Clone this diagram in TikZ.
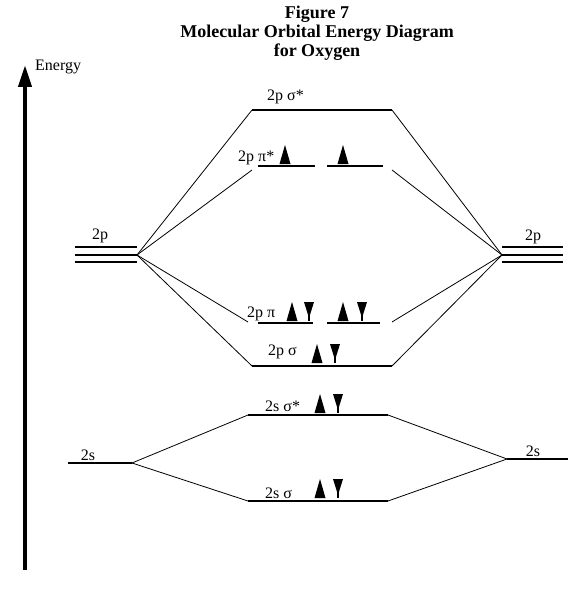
\documentclass[tikz,border=0pt]{standalone}
\usepackage{fontspec}
\setmainfont{Liberation Serif}
\usetikzlibrary{arrows.meta}

% electron arrows: x, y of the base
\newcommand{\spinup}[2]{\fill (#1-5.5,#2) -- (#1+5.5,#2) -- (#1,#2-19) -- cycle;}
\newcommand{\spindown}[2]{\fill (#1-5,#2-20) -- (#1+5,#2-20) -- (#1,#2-4) -- cycle;
    \draw[line width=1.3pt] (#1,#2-9) -- (#1,#2-1);}

\begin{document}
\begin{tikzpicture}[
    x=1pt, y=-1pt,
    every node/.style={font=\fontsize{16}{17}\selectfont, inner sep=0pt},
    level/.style={line width=1.3pt},
    conn/.style={line width=0.8pt},
    lbl/.style={anchor=west}
]
\useasboundingbox (0,0) rectangle (570,596);

% title
\node [font=\bfseries\fontsize{18}{19}\selectfont, align=center] (title) at (317,33)
    {Figure 7\\Molecular Orbital Energy Diagram\\for Oxygen};

% energy axis
\coordinate (ebot) at (25,570);
\coordinate (etop) at (25,65);
\draw [line width=4pt, -{Triangle[width=13pt,length=22pt]}] (ebot) -- (etop);
\node [lbl] (energy) at (35,67) {Energy};

% atomic orbitals
\foreach \y in {247,255,262} {
    \draw [level] (75,\y) -- (137,\y);
    \draw [level] (502,\y) -- (563,\y);
}
\coordinate (L2p) at (137,255);
\coordinate (R2p) at (502,255);
\node (l2plbl) at (100,236) {2p};
\node (r2plbl) at (533,237) {2p};

\coordinate (L2s) at (132,463);
\coordinate (L2sw) at (68,463);
\coordinate (R2s) at (507,459);
\coordinate (R2se) at (568,459);
\draw [level] (L2sw) -- (L2s);
\draw [level] (R2s) -- (R2se);
\node (l2slbl) at (88,455) {2s};
\node (r2slbl) at (533,451) {2s};

% molecular orbitals
\coordinate (ssA) at (252,110); \coordinate (ssB) at (392,110);
\coordinate (psA) at (252,170); \coordinate (psB) at (392,170);
\coordinate (ppA) at (248,322); \coordinate (ppB) at (392,322);
\coordinate (spA) at (252,366); \coordinate (spB) at (392,366);
\coordinate (s2A) at (248,415); \coordinate (s2B) at (388,415);
\coordinate (s1A) at (248,501); \coordinate (s1B) at (388,501);

\draw [level] (ssA) -- (ssB);
\draw [level] (258,166) -- (315,166);
\draw [level] (327,166) -- (383,166);
\draw [level] (258,323) -- (313,323);
\draw [level] (327,323) -- (380,323);
\draw [level] (spA) -- (spB);
\draw [level] (s2A) -- (s2B);
\draw [level] (s1A) -- (s1B);

\node [lbl] (sslbl) at (267,97) {2p σ*};
\node [lbl] (pslbl) at (238,158) {2p π*};
\node [lbl] (pplbl) at (247,314) {2p π};
\node [lbl] (splbl) at (268,352) {2p σ};
\node [lbl] (s2lbl) at (265,406) {2s σ*};
\node [lbl] (s1lbl) at (265,493) {2s σ};

% connectors
\foreach \a/\b in {ssA/ssB, psA/psB, ppA/ppB, spA/spB} {
    \draw [conn] (L2p) -- (\a);
    \draw [conn] (\b) -- (R2p);
}
\foreach \a/\b in {s2A/s2B, s1A/s1B} {
    \draw [conn] (L2s) -- (\a);
    \draw [conn] (\b) -- (R2s);
}

% electrons
\spinup{285}{164} \spinup{343}{164}
\spinup{292}{321} \spindown{309}{322}
\spinup{343}{321} \spindown{362}{322}
\spinup{317}{363} \spindown{335}{364}
\spinup{320}{413} \spindown{338}{414}
\spinup{320}{498} \spindown{338}{499}

\end{tikzpicture}
\end{document}
